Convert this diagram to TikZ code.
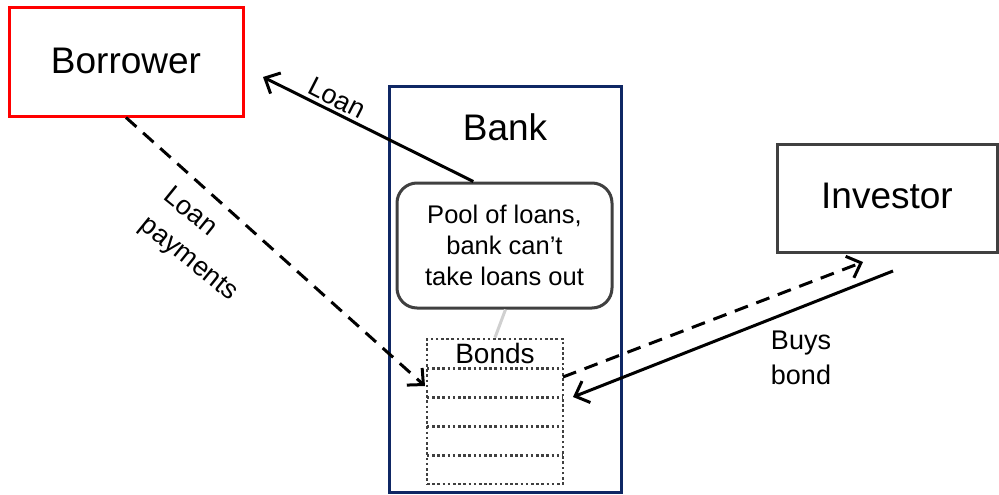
\documentclass[tikz,border=0pt]{standalone}
\usepackage{fontspec}
\setmainfont{Liberation Sans}
\usetikzlibrary{arrows.meta}
\definecolor{navy}{HTML}{0F2764}
\definecolor{dgray}{HTML}{404040}
\definecolor{lgray}{HTML}{D0D0D0}
\tikzset{
  party/.style={draw, line width=3pt, minimum width=#1, minimum height=108pt, inner sep=0pt, font=\fontsize{37}{42}\selectfont},
  dotline/.style={draw=dgray, line width=2.8pt, dash pattern=on 2.6pt off 2.6pt},
  bondrow/.style={minimum width=136pt, minimum height=29pt, inner sep=0pt},
  flow/.style={line width=3pt, -{Straight Barb[length=12pt,width=23pt,line width=3pt]}},
  dashflow/.style={flow, dash pattern=on 14pt off 9pt},
  lbl/.style={font=\fontsize{27}{35}\selectfont, align=center, inner sep=0pt}
}
\begin{document}
\begin{tikzpicture}[x=1pt,y=-1pt]
\useasboundingbox (0,0) rectangle (999,495);
% bank container
\node[draw=navy, line width=3pt, minimum width=232pt, minimum height=405pt, inner sep=0pt] (bank) at (505,289.5) {};
\node[font=\fontsize{37}{42}\selectfont, inner sep=0pt] (banklabel) at (505,127) {Bank};
% parties
\node[party=234pt, draw=red] (borrower) at (126,62) {\raisebox{3pt}{Borrower}};
\node[party=220pt, draw=dgray] (investor) at (887,198) {\raisebox{4pt}{Investor}};
% pool
\node[draw=dgray, line width=3pt, rounded corners=20pt, minimum width=215pt, minimum height=125pt, inner sep=0pt, align=center, font=\fontsize{25.5}{30.8}\selectfont] (pool) at (504.5,245.5) {Pool of loans,\\bank can’t\\take loans out};
% bonds
\node[dotline, minimum width=136pt, minimum height=145pt, inner sep=0pt] (bonds) at (495,411.5) {};
\node[bondrow, font=\fontsize{28}{32}\selectfont] (row1) at (495,353.5) {\raisebox{1pt}{Bonds}};
\node[bondrow] (row2) at (495,382.5) {};
\node[bondrow] (row3) at (495,411.5) {};
\node[bondrow] (row4) at (495,440.5) {};
\draw[dotline] (row1.south west) -- (row1.south east);
\draw[dotline] (row2.south west) -- (row2.south east);
\draw[dotline] (row3.south west) -- (row3.south east);
\draw[dotline] (row4.south west) -- (row4.south east);
\draw[lgray, line width=3pt] (pool.south) ++(1,0) -- (bonds.north);
% free ends
\coordinate (loantip) at (263,77);
\coordinate (paytip) at (425,386);
\coordinate (invtip) at (863,262);
\coordinate (invstart) at (893,271);
\coordinate (bondtip) at (573,397);
\coordinate (bondstart) at (563,377);
% connectors
\draw[flow] (pool.116) -- (loantip);
\draw[dashflow] (borrower.south) -- (paytip);
\draw[dashflow] (bondstart) -- (invtip);
\draw[flow] (invstart) -- (bondtip);
% labels
\node[lbl, rotate=-27] (loanlbl) at (337,98) {Loan};
\node[lbl, rotate=-39, align=left, font=\fontsize{27}{37}\selectfont] (paylbl) at (200,245) {Loan\\payments};
\node[lbl, text depth=0pt] (buyslbl) at (801,358) {Buys\\bond};
\end{tikzpicture}
\end{document}
